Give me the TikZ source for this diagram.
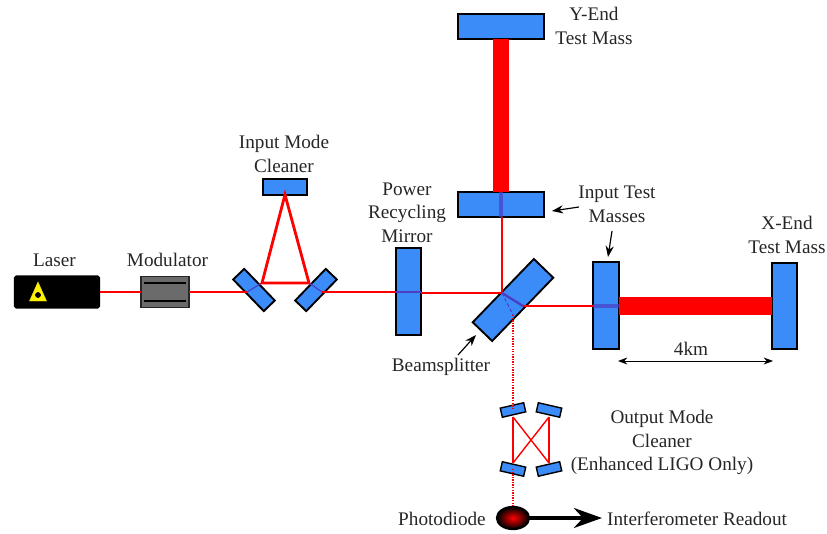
\documentclass[tikz,border=0pt]{standalone}
\usepackage{fontspec}
\setmainfont{Liberation Serif}
\usetikzlibrary{arrows.meta, shapes.geometric}

\definecolor{mirrorblue}{HTML}{3B8CF8}
\definecolor{beamred}{HTML}{FF0000}
\definecolor{insidebeam}{HTML}{4A3FC4}

\tikzset{
    mirror/.style = {draw = black, fill = mirrorblue, line width = 1.6pt, inner sep = 0pt, outer sep = 0pt},
    beam/.style = {draw = beamred, line width = 2.4pt},
    thinbeam/.style = {draw = beamred, line width = 1.5pt},
    omcbeam/.style = {draw = beamred, line width = 1.2pt},
    inbeam/.style = {draw = insidebeam, line width = 1.6pt},
    label/.style = {font = \fontsize{16.4}{20}\selectfont, text = black!85, inner sep = 0pt},
    pointer/.style = {-{Stealth[length = 9.5pt, width = 7pt]}, line width = 1pt},
}

\begin{document}
\begin{tikzpicture}[x = 0.03cm, y = -0.03cm]
    \useasboundingbox (0, 0) rectangle (827, 534);

    % laser and modulator
    \node[fill = black, rounded corners = 1.5pt, minimum width = 2.58cm, minimum height = 0.99cm, inner sep = 0pt, outer sep = 0pt] (laser) at (57, 292) {};
    \filldraw[draw = yellow!90!black, fill = yellow] (38, 282) -- (46.5, 301) -- (29.5, 301) -- cycle;
    \filldraw[black] (38, 295) circle (2.6);
    \node[draw = black!85, fill = black!58, line width = 1.2pt, minimum width = 1.44cm, minimum height = 0.93cm, inner sep = 0pt, outer sep = 0pt] (modulator) at (165, 292) {};
    \foreach \y in {283, 301}{
        \draw[black, line width = 1.6pt] (144, \y) -- (186, \y);
    }

    % mirrors
    \node[mirror, minimum width = 1.32cm, minimum height = 0.46cm] (imcleft) at (254, 290) [rotate = -46] {};
    \node[mirror, minimum width = 1.32cm, minimum height = 0.46cm] (imcright) at (316, 290) [rotate = 46] {};
    \node[mirror, minimum width = 1.32cm, minimum height = 0.46cm] (imctop) at (285, 187) {};
    \node[mirror, minimum width = 0.75cm, minimum height = 2.61cm] (prm) at (408.5, 291.5) {};
    \node[mirror, minimum width = 2.64cm, minimum height = 0.81cm] (bs) at (513, 300) [rotate = 46] {};
    \node[mirror, minimum width = 2.58cm, minimum height = 0.75cm] (itmy) at (501, 204.5) {};
    \node[mirror, minimum width = 2.58cm, minimum height = 0.75cm] (etmy) at (501, 26.5) {};
    \node[mirror, minimum width = 0.78cm, minimum height = 2.61cm] (itmx) at (606, 305.5) {};
    \node[mirror, minimum width = 0.75cm, minimum height = 2.58cm] (etmx) at (784.5, 306) {};
    \foreach \name/\x/\y/\ang in {omctl/513/410/13, omctr/549/410/-13, omcbl/513/469/-13, omcbr/549/469/13}{
        \node[mirror, line width = 1.2pt, minimum width = 0.72cm, minimum height = 0.28cm, rotate = \ang] (\name) at (\x, \y) {};
    }
    \node[ellipse, draw = black, line width = 2pt, inner color = beamred, outer color = black, minimum width = 0.96cm, minimum height = 0.66cm, inner sep = 0pt, outer sep = 0pt] (diode) at (513, 518) {};

    % hit points of the beams
    \coordinate (imcinl) at (247, 292);
    \coordinate (imchitl) at (262, 283);
    \coordinate (imchitr) at (309, 283);
    \coordinate (imcoutr) at (322, 292);
    \coordinate (bshit) at (502, 293);
    \coordinate (bsback) at (523, 306);
    \coordinate (bsdark) at (513, 315);
    \coordinate (readout) at (602, 518);
    \coordinate (omca) at (513, 417);
    \coordinate (omcb) at (549, 417);
    \coordinate (omcc) at (513, 463);
    \coordinate (omcd) at (549, 463);

    % beams
    \draw[thinbeam] (laser.east) -- (modulator.west);
    \draw[thinbeam] (modulator.east) -- (imcinl);
    \draw[inbeam, line width = 1pt] (imcinl) -- (imchitl);
    \draw[beam] (imchitl) -- (imctop.south) -- (imchitr) -- cycle;
    \draw[inbeam, line width = 1pt] (imchitr) -- (imcoutr);
    \draw[thinbeam] (imcoutr) -- (prm.west |- imcoutr);
    \draw[inbeam, line width = 1pt] (prm.west |- imcoutr) -- (prm.east |- imcoutr);
    \draw[beam] (prm.east |- bshit) -- (bshit);
    \draw[beam] (bshit) -- (bshit |- itmy.south);
    \draw[inbeam, line width = 3pt, opacity = 0.7] (itmy.north) -- (itmy.south);
    \draw[beamred, line width = 13.5pt] (itmy.north) -- (etmy.south);
    \draw[inbeam, line width = 2pt] (bshit) -- (bsback);
    \draw[inbeam, line width = 0.8pt, densely dashed] (bshit) -- (bsdark);
    \draw[beam] (bsback) -- (itmx.west |- bsback);
    \draw[inbeam, line width = 3pt, opacity = 0.7] (itmx.west |- bsback) -- (itmx.east |- bsback);
    \draw[beamred, line width = 15pt] (itmx.east |- etmx) -- (etmx.west);
    \draw[beamred, line width = 1.2pt, densely dotted] (bsdark) -- (omctl.center);
    \draw[omcbeam] (omca) -- (omcc);
    \draw[omcbeam] (omcb) -- (omcd);
    \draw[omcbeam] (omca) -- (omcd);
    \draw[omcbeam] (omcb) -- (omcc);
    \draw[beamred, line width = 1.2pt, densely dotted] (omcbl.center) -- (diode.north);
    \draw[black, line width = 3.4pt, -{Stealth[length = 24pt, width = 17pt]}] (diode.east) -- (readout);

    % labels
    \node[label] (lasertext) at (54.5, 260) {Laser};
    \node[label] (modtext) at (167.5, 260) {Modulator};
    \node[label] (imctext) at (284, 156) {\begin{tabular}{@{}c@{}}Input Mode\\Cleaner\end{tabular}};
    \node[label] (prmtext) at (407, 214) {\begin{tabular}{@{}c@{}}Power\\Recycling\\Mirror\end{tabular}};
    \node[label] (yendtext) at (594, 28) {\begin{tabular}{@{}c@{}}Y-End\\Test Mass\end{tabular}};
    \node[label] (itmtext) at (617, 206) {\begin{tabular}{@{}c@{}}Input Test\\Masses\end{tabular}};
    \node[label] (xendtext) at (787, 237) {\begin{tabular}{@{}c@{}}X-End\\Test Mass\end{tabular}};
    \node[label] (kmtext) at (691, 349) {4km};
    \node[label] (bstext) at (441, 367) {Beamsplitter};
    \node[label] (omctext) at (662, 442.5) {\begin{tabular}{@{}c@{}}Output Mode\\Cleaner\\(Enhanced LIGO Only)\end{tabular}};
    \node[label] (pdtext) at (442, 519) {Photodiode};
    \node[label, anchor = west] (readtext) at (607, 519) {Interferometer Readout};

    % pointers
    \coordinate (itmytail) at (579, 207);
    \coordinate (itmxtail) at (612, 231);
    \coordinate (bstail) at (458, 355);
    \coordinate (kmleft) at (618, 361);
    \coordinate (kmright) at (773, 361);
    \draw[pointer] (itmytail) -- (552, 211);
    \draw[pointer] (itmxtail) -- (608, 257);
    \draw[pointer] (bstail) -- (476, 335);
    \draw[{Stealth[length = 8pt, width = 6pt]}-{Stealth[length = 8pt, width = 6pt]}, line width = 0.8pt] (kmleft) -- (kmright);
\end{tikzpicture}
\end{document}
